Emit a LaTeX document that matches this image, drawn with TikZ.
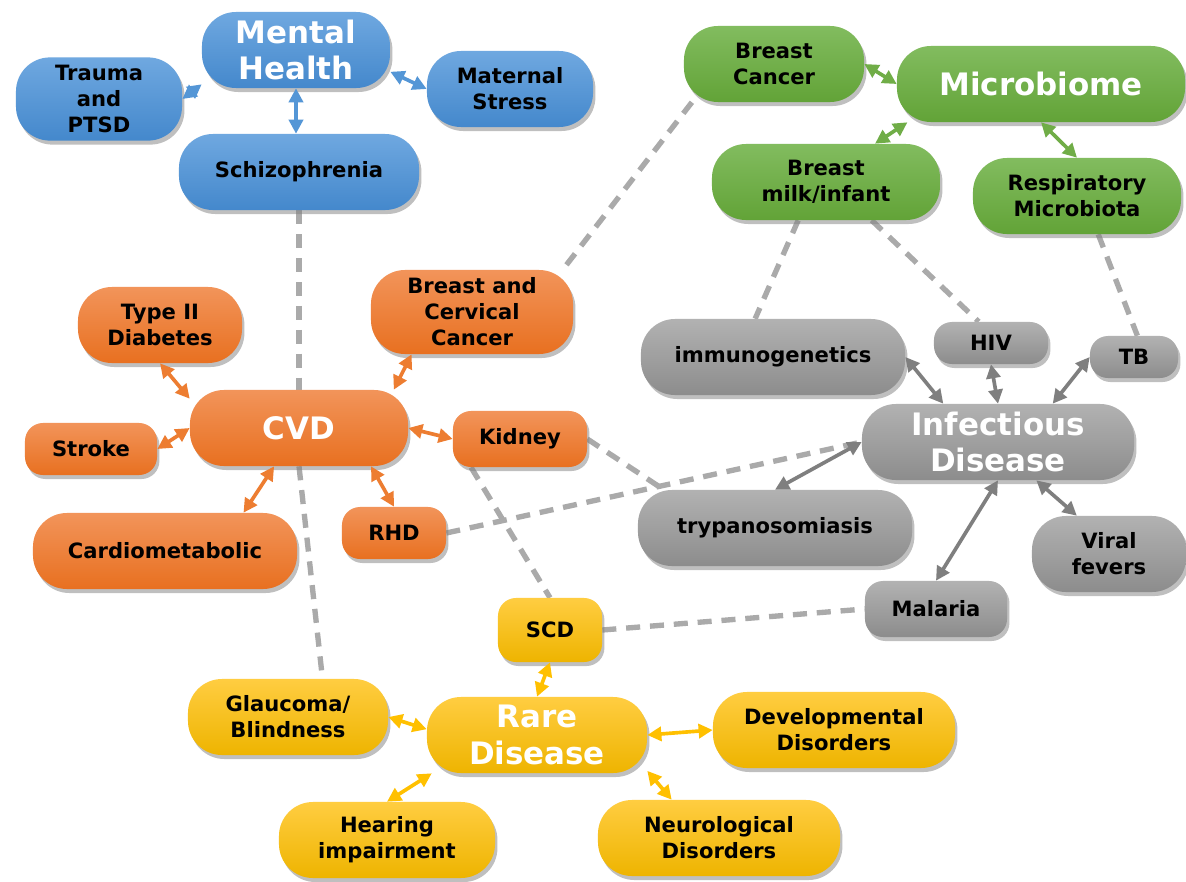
\documentclass[tikz,border=0pt]{standalone}
\usepackage{fontspec}
\setmainfont{DejaVu Sans}
\usetikzlibrary{arrows.meta,shadows,backgrounds}
\definecolor{blueT}{RGB}{111,168,224}
\definecolor{blueB}{RGB}{68,136,204}
\definecolor{bluearrow}{RGB}{84,150,214}
\definecolor{greenT}{RGB}{130,188,95}
\definecolor{greenB}{RGB}{98,163,55}
\definecolor{greenarrow}{RGB}{112,173,71}
\definecolor{orangeT}{RGB}{242,148,90}
\definecolor{orangeB}{RGB}{232,112,32}
\definecolor{orangearrow}{RGB}{237,125,49}
\definecolor{grayT}{RGB}{178,178,178}
\definecolor{grayB}{RGB}{140,140,140}
\definecolor{grayarrow}{RGB}{127,127,127}
\definecolor{yellowT}{RGB}{255,205,65}
\definecolor{yellowB}{RGB}{238,180,0}
\definecolor{yellowarrow}{RGB}{255,192,0}
\definecolor{dashgray}{RGB}{170,170,170}

\begin{document}
\begin{tikzpicture}[x=0.025cm,y=-0.025cm,>={Triangle[length=10pt,width=10pt]},
box/.style={rounded corners=0.85cm,minimum height=1.9cm,align=center,inner sep=2pt,font=\fontsize{15}{18.5}\selectfont\bfseries,drop shadow={shadow xshift=0.06cm,shadow yshift=-0.1cm,opacity=0.5}},
tightbox/.style={rounded corners=0.45cm},
hub/.style={text=white,font=\fontsize{22}{26}\selectfont\bfseries},
bluebox/.style={box,top color=blueT,bottom color=blueB},
greenbox/.style={box,top color=greenT,bottom color=greenB},
orangebox/.style={box,top color=orangeT,bottom color=orangeB},
graybox/.style={box,top color=grayT,bottom color=grayB},
yellowbox/.style={box,top color=yellowT,bottom color=yellowB},
link/.style={draw=#1,line width=2.6pt,<->},
dashlink/.style={draw=dashgray,line width=3.8pt,dash pattern=on 10pt off 7pt}]
\useasboundingbox (0,0) rectangle (1186,882);

\node[bluebox,hub,minimum width=4.7cm] (mental) at (296,50) {Mental\\Health};
\node[bluebox,minimum width=4.15cm,minimum height=2.08cm] (trauma) at (99,99) {Trauma\\and\\PTSD};
\node[bluebox,minimum width=4.15cm] (maternal) at (510,89) {Maternal\\Stress};
\node[bluebox,minimum width=6cm] (schizo) at (299,172) {Schizophrenia};

\node[greenbox,minimum width=4.5cm] (bcancer) at (774,64) {Breast\\Cancer};
\node[greenbox,hub,minimum width=7.2cm] (microbiome) at (1041,84) {Microbiome};
\node[greenbox,minimum width=5.7cm] (milk) at (826,182) {Breast\\milk/infant};
\node[greenbox,minimum width=5.2cm] (resp) at (1077,196) {Respiratory\\Microbiota};

\node[orangebox,minimum width=4.1cm] (diabetes) at (160,325) {Type II\\Diabetes};
\node[orangebox,minimum width=5.05cm,minimum height=2.1cm] (bccancer) at (472,312) {Breast and\\Cervical\\Cancer};
\node[orangebox,hub,minimum width=5.45cm] (cvd) at (299,428) {CVD};
\node[orangebox,tightbox,minimum width=3.3cm,minimum height=1.3cm] (stroke) at (91,449) {Stroke};
\node[orangebox,tightbox,minimum width=3.35cm,minimum height=1.4cm] (kidney) at (520,439) {Kidney};
\node[orangebox,minimum width=6.6cm] (cardio) at (165,551) {Cardiometabolic};
\node[orangebox,tightbox,minimum width=2.6cm,minimum height=1.3cm] (rhd) at (394,533) {RHD};

\node[graybox,minimum width=6.6cm] (immuno) at (773,357) {immunogenetics};
\node[graybox,tightbox,minimum width=2.85cm,minimum height=1.05cm] (hiv) at (991,343) {HIV};
\node[graybox,tightbox,minimum width=2.2cm,minimum height=1.05cm] (tb) at (1134,357) {TB};
\node[graybox,hub,minimum width=6.8cm] (infect) at (998,442) {Infectious\\Disease};
\node[graybox,minimum width=6.85cm] (trypano) at (775,528) {trypanosomiasis};
\node[graybox,minimum width=3.85cm] (viral) at (1109,554) {Viral\\fevers};
\node[graybox,tightbox,minimum width=3.55cm,minimum height=1.4cm] (malaria) at (936,609) {Malaria};

\node[yellowbox,tightbox,minimum width=2.6cm,minimum height=1.6cm] (scd) at (550,630) {SCD};
\node[yellowbox,hub,minimum width=5.5cm] (rare) at (537,735) {Rare\\Disease};
\node[yellowbox,minimum width=5cm] (glaucoma) at (288,717) {Glaucoma/\\Blindness};
\node[yellowbox,minimum width=6.05cm] (develop) at (834,730) {Developmental\\Disorders};
\node[yellowbox,minimum width=5.4cm] (hearing) at (387,840) {Hearing\\impairment};
\node[yellowbox,minimum width=6.05cm] (neuro) at (719,838) {Neurological\\Disorders};

\begin{scope}[on background layer]
\fill[white] (0,0) rectangle (1186,882);
\draw[dashlink] (schizo.south) -- (cvd.north);
\draw[dashlink] (bcancer.205) -- (bccancer.25);
\draw[dashlink] (milk.234) -- (immuno.115);
\draw[dashlink] (milk.-40) -- (hiv.120);
\draw[dashlink] (resp.-61) -- (tb.81);
\draw[dashlink] (cvd.south) -- (glaucoma.48);
\draw[dashlink] (kidney.east) -- (trypano.161);
\draw[dashlink] (kidney.210) -- (scd.north);
\draw[dashlink] (rhd.east) -- (infect.west);
\draw[dashlink] (scd.east) -- (malaria.west);
\end{scope}

\draw[link=bluearrow] (trauma.east) -- (mental.200);
\draw[link=bluearrow] (mental.-13) -- (maternal.west);
\draw[link=bluearrow] (mental.south) -- (mental.south |- schizo.north);

\draw[link=greenarrow] (bcancer.east) -- (microbiome.west);
\draw[link=greenarrow] (microbiome.196) -- (milk.38);
\draw[link=greenarrow] (microbiome.south) -- (resp.north);

\draw[link=orangearrow] (diabetes.south) -- (cvd.165);
\draw[link=orangearrow] (stroke.east) -- (cvd.west);
\draw[link=orangearrow] (cvd.22) -- (bccancer.215);
\draw[link=orangearrow] (cvd.east) -- (kidney.west);
\draw[link=orangearrow] (cvd.237) -- (cardio.26);
\draw[link=orangearrow] (cvd.-28) -- (rhd.north);

\draw[link=grayarrow] (immuno.east) -- (infect.145);
\draw[link=grayarrow] (hiv.south) -- (infect.north);
\draw[link=grayarrow] (tb.west) -- (infect.35);
\draw[link=grayarrow] (infect.west) -- (trypano.north);
\draw[link=grayarrow] (infect.south) -- (malaria.north);
\draw[link=grayarrow] (infect.-45) -- (viral.130);

\draw[link=yellowarrow] (scd.south) -- (rare.north);
\draw[link=yellowarrow] (glaucoma.east) -- (rare.177);
\draw[link=yellowarrow] (rare.east) -- (develop.west);
\draw[link=yellowarrow] (hearing.north) -- (rare.200);
\draw[link=yellowarrow] (rare.-18) -- (neuro.141);
\end{tikzpicture}
\end{document}
